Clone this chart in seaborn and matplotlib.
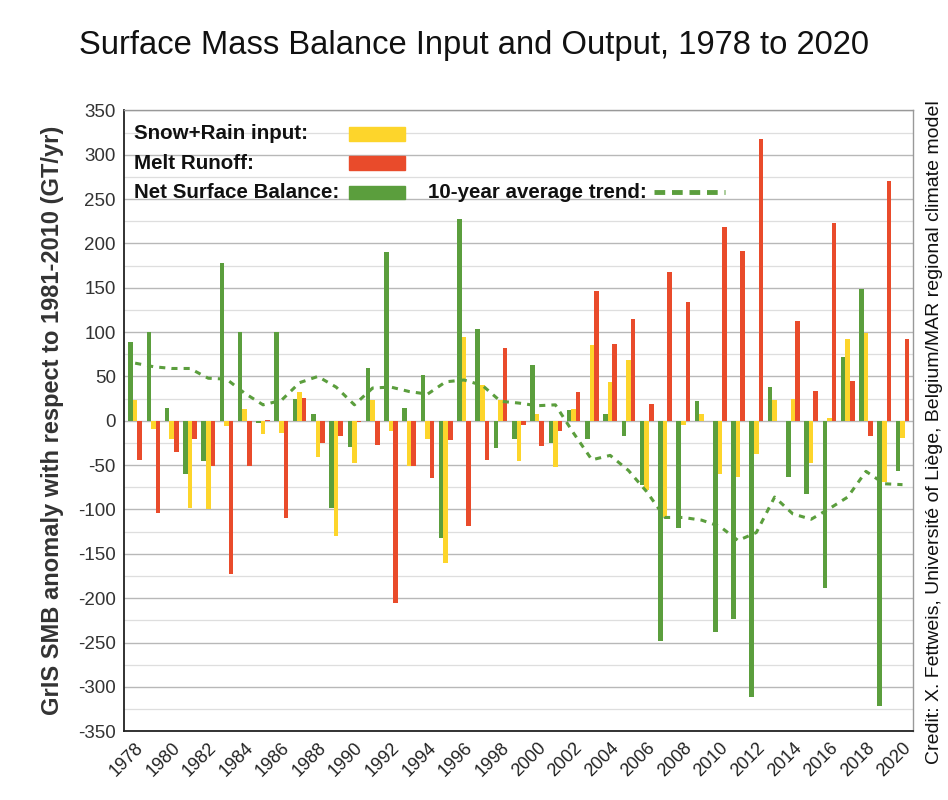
import numpy as np
import pandas as pd
import matplotlib
matplotlib.use("Agg")
import matplotlib.pyplot as plt
from matplotlib.patches import Rectangle
from matplotlib.lines import Line2D
import seaborn as sns

# values (GT/yr anomaly vs 1981-2010)
years = list(range(1978, 2021))
net_balance = [89, 100, 14, -60, -45, 178, 100, -2, 100, 25, 8, -98, -29, 60, 190,
               14, 52, -132, 228, 104, -31, -21, 63, -25, 12, -20, 8, -17, -72, -248,
               -121, 22, -238, -223, -312, 38, -63, -83, -188, 72, 149, -322, -57]
snow_rain = [24, -9, -21, -98, -99, -6, 13, -15, -14, 32, -41, -130, -48, 24, -12,
             -51, -21, -160, 95, 40, 23, -45, 8, -52, 13, 86, 44, 68, -78, -109,
             -5, 8, -60, -63, -37, 23, 25, -48, 3, 92, 99, -69, -19]
melt_runoff = [-44, -104, -35, -21, -51, -173, -51, 1, -110, 26, -25, -17, -1, -27, -206,
               -51, -64, -22, -119, -44, 82, -5, -28, -12, 32, 146, 87, 115, 19, 168,
               134, 0, 218, 192, 318, 0, 112, 34, 223, 45, -17, 270, 92]
trend_10yr = [65, 61, 59, 59, 48, 47, 31, 18, 23, 43, 50, 38, 18, 37, 38,
              33, 30, 44, 46, 40, 22, 20, 17, 18, -14, -44, -39, -56, -80, -109,
              -109, -112, -119, -135, -126, -86, -105, -111, -99, -86, -57, -71, -72]

series_names = ["Net Surface Balance", "Snow+Rain input", "Melt Runoff"]
colors = {"Net Surface Balance": "#5b9e3d", "Snow+Rain input": "#fdd52b",
          "Melt Runoff": "#e94b2b"}

df = pd.DataFrame({"year": [str(y) for y in years],
                   "Net Surface Balance": net_balance,
                   "Snow+Rain input": snow_rain,
                   "Melt Runoff": melt_runoff})
long_df = df.melt(id_vars="year", var_name="series", value_name="value")

sns.set_style("white")
plt.rcParams['font.family'] = ['Liberation Sans', 'DejaVu Sans']
plt.rcParams['axes.unicode_minus'] = False

fig = plt.figure(figsize=(9.48, 8), dpi=100)
ax = fig.add_axes([0.131, 0.086, 0.832, 0.776])

# grid
ax.set_axisbelow(True)
ax.set_ylim(-350, 350)
ax.set_yticks(np.arange(-350, 351, 50))
ax.set_yticks(np.arange(-325, 350, 50), minor=True)
ax.grid(axis="y", which="major", color="#b8b8b8", lw=1.0)
ax.grid(axis="y", which="minor", color="#dedede", lw=0.9)
ax.grid(axis="x", which="major", color="#dcdcdc", lw=0.9)

sns.barplot(data=long_df, x="year", y="value", hue="series", hue_order=series_names,
            palette=colors, width=0.75, dodge=True, gap=0, saturation=1,
            errorbar=None, legend=False, linewidth=0, ax=ax)

sns.lineplot(x=np.arange(len(years)), y=trend_10yr, color="#5b9e3d", lw=2.2,
             linestyle=(0, (2.0, 2.0)), ax=ax)

ax.set_xlim(-0.6, len(years) - 0.43)
ax.set_xticks(np.arange(len(years)))
ax.set_xticklabels([str(y) if y % 2 == 0 else "" for y in years],
                   rotation=45, ha="right", rotation_mode="anchor", fontsize=13,
                   color="#222222")
ax.tick_params(axis="x", length=0, pad=6)
ax.tick_params(axis="y", length=0, pad=6, labelsize=13.5, labelcolor="#333333")
ax.tick_params(axis="y", which="minor", length=0)

for s in ["left", "bottom"]:
    ax.spines[s].set_color("#222222")
    ax.spines[s].set_linewidth(1.3)
for s in ["top", "right"]:
    ax.spines[s].set_color("#999999")
    ax.spines[s].set_linewidth(1.0)

ax.set_xlabel("")
ax.set_ylabel("GrIS SMB anomaly with respect to 1981-2010 (GT/yr)", fontsize=17,
              fontweight="bold", color="#333333", labelpad=10)

# custom legend block
tx = 0.013
rows = [("Snow+Rain input:", 0.962, colors["Snow+Rain input"]),
        ("Melt Runoff:", 0.915, colors["Melt Runoff"]),
        ("Net Surface Balance:", 0.868, colors["Net Surface Balance"])]
for label, yy, col in rows:
    ax.text(tx, yy, label, transform=ax.transAxes, fontsize=14.8, fontweight="bold",
            va="center", ha="left", color="#111111")
    ax.add_patch(Rectangle((0.285, yy - 0.011), 0.071, 0.022, transform=ax.transAxes,
                           color=col, zorder=5))
ax.text(0.385, 0.868, "10-year average trend:", transform=ax.transAxes, fontsize=14.8,
        fontweight="bold", va="center", ha="left", color="#111111")
ax.add_line(Line2D([0.672, 0.762], [0.868, 0.868], transform=ax.transAxes,
                   color="#5b9e3d", lw=3.5, linestyle=(0, (2.2, 1.4))))

fig.text(0.5, 0.943, "Surface Mass Balance Input and Output, 1978 to 2020",
         ha="center", va="center", fontsize=23.6, color="#111111")
fig.text(0.986, 0.46,
         "Credit: X. Fettweis, Université of Liège, Belgium/MAR regional climate model",
         rotation=90, ha="center", va="center", fontsize=14, color="#111111")

fig.savefig("out.png", dpi=100)
